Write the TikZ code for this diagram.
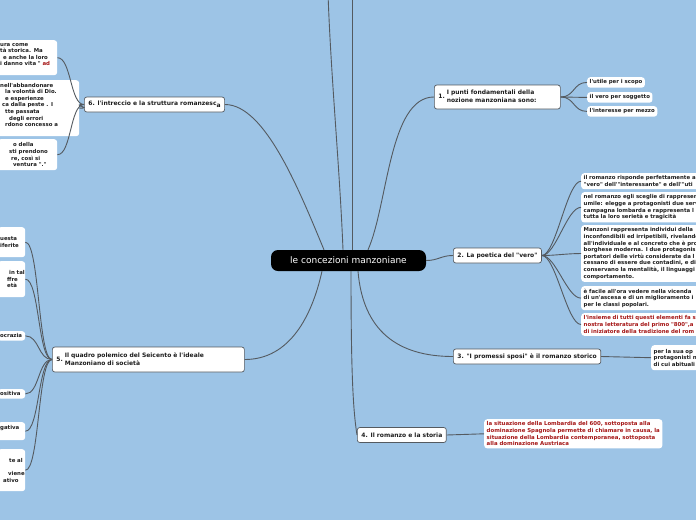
\documentclass[tikz,border=0pt]{standalone}
\usepackage{fontspec}
\newfontfamily\mapfont{DejaVu Sans}
\definecolor{mapbg}{RGB}{157,196,230}
\definecolor{linkgray}{RGB}{84,90,96}
\definecolor{inkred}{RGB}{165,22,22}
\definecolor{ink}{RGB}{30,30,30}
\tikzset{
  link/.style={draw=linkgray,line width=0.9pt},
  topic/.style={draw=linkgray,line width=0.7pt,fill=white,rounded corners=2.5pt,text=ink,
    font=\mapfont\fontsize{6}{8}\selectfont\bfseries,inner xsep=4pt,inner ysep=2pt,minimum height=15pt},
  leaf/.style={fill=white,rounded corners=3pt,text=ink,align=left,
    font=\mapfont\fontsize{5.4}{6.6}\selectfont\bfseries,inner xsep=2.5pt,inner ysep=2.6pt},
  hot/.style={leaf,text=inkred},
}

\begin{document}
\begin{tikzpicture}[x=1pt,y=-1pt]
  \fill[mapbg] (0,0) rectangle (696,520);
  \useasboundingbox (0,0) rectangle (696,520);
  \clip (0,0) rectangle (696,520);

  \node[fill=black,text=white,rounded corners=7pt,minimum width=155pt,minimum height=21pt,
    font=\mapfont\fontsize{9}{11}\selectfont] (c) at (348.5,260.5) {le concezioni manzoniane};
  \coordinate (up1) at (327,-60);
  \coordinate (up2) at (352,-60);

  % main branches
  \node[topic,text width=118pt,align=left,minimum height=24pt] (t1) [anchor=west] at (434,97)
    {1.~\begin{tabular}{@{}l@{}}I punti fondamentali della\\nozione manzoniana sono:\end{tabular}};
  \node[topic] (t2) [anchor=west] at (453,255.5) {2. La poetica del "vero"};
  \node[topic] (t3) [anchor=west] at (453,356.5) {3. "I promessi sposi" è il romanzo storico};
  \node[topic] (t4) [anchor=west] at (357,435) {4. Il romanzo e la storia};
  \node[topic,text width=184pt,align=left,minimum height=25pt] (t5) [anchor=west] at (52,359.5)
    {5.~\begin{tabular}{@{}l@{}}Il quadro polemico del Seicento è l'ideale\\Manzoniano di società\end{tabular}};
  \node[topic] (t6) [anchor=west] at (84,104.5) {6. l'intreccio e la struttura romanzesc\raisebox{-1.5pt}{a}};

  % leaves of 1
  \node[leaf] (l1a) [anchor=north west] at (587,77) {l'utile per i scopo};
  \node[leaf] (l1b) [anchor=north west] at (587,92) {il vero per soggetto};
  \node[leaf] (l1c) [anchor=north west] at (587,106) {l'interesse per mezzo};

  % leaves of 2
  \node[leaf,text width=200pt] (l2a) [anchor=north west] at (581,173)
    {il romanzo risponde perfettamente a\\"vero" dell'"interessante" e dell'"uti};
  \node[leaf,text width=200pt] (l2b) [anchor=north west] at (581,192)
    {nel romanzo egli sceglie di rappresen\\umile: elegge a protagonisti due serv\\campagna lombarda e rappresenta l\\tutta la loro serietà e tragicità};
  \node[leaf,text width=200pt] (l2c) [anchor=north west] at (581,225)
    {Manzoni rappresenta individui della\\inconfondibili ed irripetibili, rivelando\\all'individuale e al concreto che è pro\\borghese moderna. I due protagonis\\portatori delle virtù considerate da l\\cessano di essere due contadini, e di\\conservano la mentalità, il linguaggi\\comportamento.};
  \node[leaf,text width=200pt] (l2d) [anchor=north west] at (581,286)
    {è facile all'ora vedere nella vicenda\\di un'ascesa e di un miglioramento i\\per le classi popolari.};
  \node[hot,text width=200pt] (l2e) [anchor=north west] at (581,313)
    {l'insieme di tutti questi elementi fa s\\nostra letteratura del primo "800",a\\di iniziatore della tradizione del rom};

  % leaves of 3 and 4
  \node[leaf,text width=100pt,minimum height=25pt] (l3a) [anchor=north west] at (651,345)
    {per la sua op\\protagonisti n\\di cui abituali};
  \node[hot] (l4a) [anchor=north west] at (484,419)
    {la situazione della Lombardia del 600, sottoposta alla\\dominazione Spagnola permette di chiamare in causa, la\\situazione della Lombardia contemporanea, sottoposta\\alla dominazione Austriaca};

  % leaves of 5 (cut by the left edge)
  \node[leaf,text width=22.5pt,minimum height=30pt] (l5a) [anchor=north west] at (-2.5,227) {uesta\\iferite};
  \node[leaf,text width=22.5pt,minimum height=36pt] (l5b) [anchor=north west] at (-2.5,261)
    {\hspace*{9pt}in~tal\\\hspace*{7pt}ffre\\\hspace*{7pt}età};
  \node[leaf,text width=22.5pt] (l5c) [anchor=north west] at (-2.5,331) {ocrazia};
  \node[leaf,text width=22.5pt] (l5d) [anchor=north west] at (-2.5,389) {ositiva};
  \node[leaf,text width=22.5pt,minimum height=18pt] (l5e) [anchor=north west] at (-2.5,422) {gativa\\~};
  \node[leaf,text width=22.5pt,minimum height=42pt] (l5f) [anchor=north west] at (-2.5,449)
    {\hspace*{9pt}te~al\\~\\\hspace*{8pt}viene\\\hspace*{3pt}ativo};

  % leaves of 6 (cut by the left edge)
  \node[leaf,text width=54.5pt,minimum height=35pt] (l6a) [anchor=north west] at (-2.5,40)
    {ura come\\tà storica. Ma\\\hspace*{3pt}e anche la loro\\i~danno~vita~"~\textcolor{inkred}{ad}\\~};
  \node[leaf,text width=76.5pt,minimum height=56pt] (l6b) [anchor=north west] at (-2.5,80)
    {nell'abbandonare\\\hspace*{5pt}la volontà di Dio.\\\hspace*{5pt}e esperienze\\\hspace*{2pt}ca dalla peste . I\\\hspace*{5pt}tte passata\\\hspace*{9pt}degli errori\\\hspace*{5pt}rdono concesso a\\~};
  \node[leaf,text width=54.5pt,minimum height=31pt] (l6c) [anchor=north west] at (-2.5,139)
    {\hspace*{13pt}o della\\\hspace*{9pt}sti prendono\\\hspace*{11pt}re, così si\\\hspace*{13pt}ventura "."};

  % connectors from the centre
  \draw[link] ([xshift=-24.5pt]c.north) .. controls +(-25,-60) and +(40,0) .. (t6.east);
  \draw[link] ([xshift=-5.5pt]c.north) .. controls +(-4,-100) and +(0,100) .. (up1);
  \draw[link] ([xshift=3.5pt]c.north) -- (up2);
  \draw[link] ([xshift=19.5pt]c.north) .. controls +(20,-45) and +(-45,0) .. (t1.west);
  \draw[link] (c.east) .. controls +(12,0) and +(-12,0) .. (t2.west);
  \draw[link] ([xshift=9.5pt]c.south) .. controls +(5,60) and +(-55,0) .. (t3.west);
  \draw[link] ([xshift=2.5pt]c.south) .. controls +(0,100) and +(-4,-25) .. (t4.west);
  \draw[link] ([xshift=-26.5pt]c.south) .. controls +(-10,45) and +(45,0) .. (t5.east);

  % connectors to the leaves
  \foreach \l in {l1a,l1b,l1c}
    \draw[link] (t1.east) .. controls +(14,0) and +(-14,0) .. (\l.west);
  \foreach \l in {l2a,l2b,l2c,l2d,l2e}
    \draw[link] (t2.east) .. controls +(14,0) and +(-14,0) .. (\l.west);
  \draw[link] (t3.east) -- (l3a.west);
  \draw[link] (t4.east) -- (l4a.west);
  \foreach \l in {l5a,l5b,l5c,l5d,l5e,l5f}
    \draw[link] (t5.west) .. controls +(-14,0) and +(14,0) .. (\l.east);
  \foreach \l in {l6a,l6b,l6c}
    \draw[link] (t6.west) .. controls +(-14,0) and +(14,0) .. (\l.east);
\end{tikzpicture}
\end{document}
